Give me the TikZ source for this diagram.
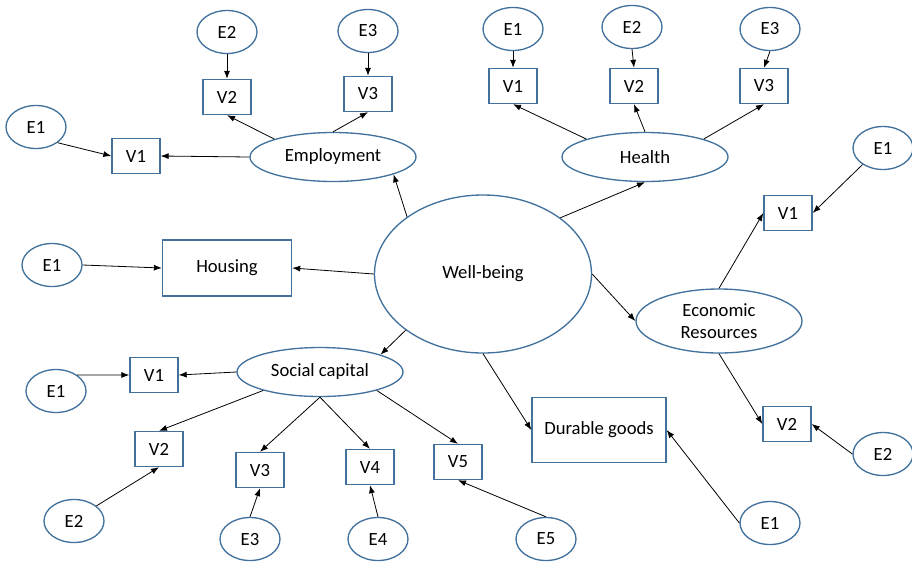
\documentclass[tikz,border=0pt]{standalone}
\usepackage{fontspec}
\setmainfont{Carlito}
\usetikzlibrary{shapes.geometric,arrows.meta}
\definecolor{shapeblue}{RGB}{65,113,156}

\tikzset{every picture/.style={line width=0.75pt}}
\tikzset{
  latent/.style={draw=shapeblue,ellipse,line width=1pt,inner sep=0pt,minimum width=124.5pt,minimum height=36.75pt,font=\fontsize{14}{17}\selectfont,align=center},
  errnode/.style={draw=shapeblue,ellipse,line width=1pt,inner sep=0pt,minimum width=45pt,minimum height=32.25pt,font=\fontsize{14}{17}\selectfont},
  obsbox/.style={draw=shapeblue,rectangle,line width=1pt,inner sep=0pt,minimum width=36pt,minimum height=26.25pt,font=\fontsize{14}{17}\selectfont},
  link/.style={draw=black,line width=0.6pt,-{Latex[length=6pt,width=4.5pt]}},
}

\begin{document}
\begin{tikzpicture}[x=0.75pt,y=0.75pt,yscale=-1,xscale=1]
\useasboundingbox (0,0) rectangle (912,561);

%Shape: Ellipse (centre)
\node [latent,minimum width=162.75pt,minimum height=118.5pt] (wb) at (483,274) {Well-being};

%Shape: Ellipse (factors)
\node [latent] (emp) at (333,157) {Employment};
\node [latent] (hlth) at (645,157) {Health};
\node [latent,minimum height=48pt] (eco) at (719,321) {Economic\\Resources};
\node [latent] (sc) at (320,372) {Social capital};

%Shape: Rectangle (single indicators)
\node [obsbox,minimum width=96.75pt,minimum height=42pt] (hous) at (227,268) {Housing};
\node [obsbox,minimum width=100.5pt,minimum height=48.75pt] (dur) at (599,430) {Durable goods};

%Shape: Rectangle (employment items)
\node [obsbox] (empv1) at (136,156) {V1};
\node [obsbox] (empv2) at (227,97) {V2};
\node [obsbox] (empv3) at (368,94) {V3};
%Shape: Ellipse (employment errors)
\node [errnode] (empe1) at (36,127) {E1};
\node [errnode] (empe2) at (227,32) {E2};
\node [errnode] (empe3) at (368,31) {E3};

%Shape: Rectangle (health items)
\node [obsbox] (hv1) at (513,86) {V1};
\node [obsbox] (hv2) at (634,86) {V2};
\node [obsbox] (hv3) at (764,86) {V3};
%Shape: Ellipse (health errors)
\node [errnode] (he1) at (513,29) {E1};
\node [errnode] (he2) at (632,27) {E2};
\node [errnode] (he3) at (770,29) {E3};

%Shape: Rectangle (economic items)
\node [obsbox] (ecov1) at (788,213) {V1};
\node [obsbox] (ecov2) at (787,424) {V2};
%Shape: Ellipse (economic errors)
\node [errnode] (ecoe1) at (883,148) {E1};
\node [errnode] (ecoe2) at (883,454) {E2};

%Shape: Ellipse (housing and durables errors)
\node [errnode] (house1) at (52,265) {E1};
\node [errnode] (dure1) at (770,523) {E1};

%Shape: Rectangle (social capital items)
\node [obsbox] (scv1) at (154,375) {V1};
\node [obsbox] (scv2) at (159,449) {V2};
\node [obsbox] (scv3) at (260,470) {V3};
\node [obsbox] (scv4) at (370,467) {V4};
\node [obsbox] (scv5) at (458,462) {V5};
%Shape: Ellipse (social capital errors)
\node [errnode] (sce1) at (56,391) {E1};
\node [errnode] (sce2) at (74,521) {E2};
\node [errnode] (sce3) at (250,539) {E3};
\node [errnode] (sce4) at (378,539) {E4};
\node [errnode] (sce5) at (546,539) {E5};

%Straight Lines (well-being to factors)
\draw [link] (wb.143) -- (emp.344);
\draw [link] (wb.36) -- (hlth.south);
\draw [link] (wb.east) -- (eco.west);
\draw [link] (wb.south) -- (dur.west);
\draw [link] (wb.216) -- (sc.16);
\draw [link] (wb.west) -- (hous.east);

%Straight Lines (employment)
\draw [link] (emp.west) -- (empv1.east);
\draw [link] (emp.163) -- (empv2.south);
\draw [link] (emp.north) -- (empv3.south);
\draw [link] (empe1.324) -- (empv1.west);
\draw [link] (empe2.south) -- (empv2.north);
\draw [link] (empe3.south) -- (empv3.north);

%Straight Lines (health)
\draw [link] (hlth.163) -- (hv1.south);
\draw [link] (hlth.north) -- (hv2.south);
\draw [link] (hlth.17) -- (hv3.south);
\draw [link] (he1.south) -- (hv1.north);
\draw [link] (he2.south) -- (hv2.north);
\draw [link] (he3.south) -- (hv3.north);

%Straight Lines (economic resources)
\draw [link] (eco.north) -- (ecov1.west);
\draw [link] (eco.south) -- (ecov2.west);
\draw [link] (ecoe1.219) -- (ecov1.east);
\draw [link] (ecoe2.west) -- (ecov2.east);

%Straight Lines (housing, durables)
\draw [link] (house1.east) -- (hous.west);
\draw [link] (dure1.west) -- (dur.east);

%Straight Lines (social capital)
\draw [link] (sc.west) -- (scv1.east);
\draw [link] (sc.198) -- (scv2.north);
\draw [link] (sc.south) -- (scv3.north);
\draw [link] (sc.south) -- (scv4.north);
\draw [link] (sc.342) -- (scv5.north);
\draw [link] (sce1.37) -- (scv1.west);
\draw [link] (sce2.34) -- (scv2.south);
\draw [link] (sce3.north) -- (scv3.south);
\draw [link] (sce4.north) -- (scv4.south);
\draw [link] (sce5.north) -- (scv5.south);

\end{tikzpicture}
\end{document}
